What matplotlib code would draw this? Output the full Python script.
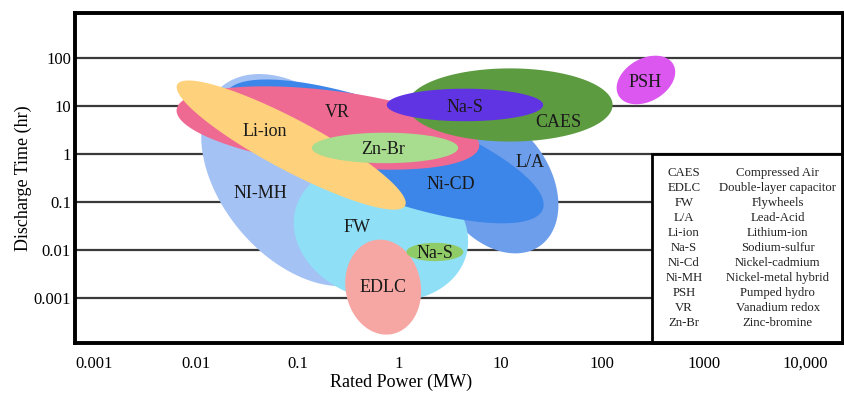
import numpy as np
import matplotlib.pyplot as plt
from matplotlib.patches import Rectangle

plt.rcParams['font.family'] = ['Liberation Serif', 'DejaVu Serif']

# storage technologies, listed back to front
techs = ["NI-MH", "L/A", "FW", "Ni-CD", "VR", "Li-ion", "Zn-Br", "CAES", "Na-S", "PSH", "EDLC", "Na-S"]
colours = ["#a4c2f4", "#6d9eeb", "#8fdff7", "#3c86ea", "#ee6a93", "#fed27d",
           "#a8dc8e", "#5d9b41", "#6134e3", "#db57f0", "#f7a7a3", "#8fcc67"]

# ellipse centres: rated power (MW) and discharge time (hr)
centre_power = [0.106, 8.8, 0.665, 0.72, 0.2, 0.087, 0.73, 12.4, 4.47, 270, 0.70, 2.26]
centre_time = [0.29, 0.265, 0.024, 1.15, 3.54, 1.56, 1.36, 10.7, 10.7, 35.5, 0.0017, 0.0092]
# half axes in power decades, tilt in degrees
half_major = [1.20, 0.77, 0.87, 1.66, 1.50, 1.27, 0.72, 1.01, 0.77, 0.31, 0.47, 0.28]
half_minor = [0.77, 0.54, 0.67, 0.45, 0.37, 0.25, 0.15, 0.36, 0.16, 0.21, 0.37, 0.09]
tilt = [-50, -55, -15, -20, -7, -28, 0, 0, 0, 30, 100, 0]

# where the names sit
label_power = [0.043, 19.5, 0.386, 3.25, 0.25, 0.048, 0.70, 36.7, 4.47, 264, 0.70, 2.26]
label_time = [0.156, 0.66, 0.030, 0.23, 7.3, 3.06, 1.29, 4.72, 9.7, 32.2, 0.0017, 0.0087]

x_ticks = [0.001, 0.01, 0.1, 1, 10, 100, 1000, 10000]
x_ticklabels = ["0.001", "0.01", "0.1", "1", "10", "100", "1000", "10,000"]
y_ticks = [0.001, 0.01, 0.1, 1, 10, 100]
y_ticklabels = ["0.001", "0.01", "0.1", "1", "10", "100"]

abbrev = ["CAES", "EDLC", "FW", "L/A", "Li-ion", "Na-S", "Ni-Cd", "Ni-MH", "PSH", "VR", "Zn-Br"]
full_names = ["Compressed Air", "Double-layer capacitor", "Flywheels", "Lead-Acid",
              "Lithium-ion", "Sodium-sulfur", "Nickel-cadmium", "Nickel-metal hybrid",
              "Pumped hydro", "Vanadium redox", "Zinc-bromine"]

fig = plt.figure(figsize=(8.44, 3.94), dpi=100)
ax = fig.add_axes([0.0889, 0.1294, 0.9099, 0.8376])
ax.set_xscale("log")
ax.set_yscale("log")
xlim = (10 ** -3.188, 10 ** 4.371)
ylim = (10 ** -3.935, 10 ** 2.947)
ax.set_xlim(*xlim)
ax.set_ylim(*ylim)

# pixels per decade differ on the two axes, ellipses are drawn in screen shape
pos = ax.get_position()
x_px = fig.get_figwidth() * fig.dpi * pos.width / np.log10(xlim[1] / xlim[0])
y_px = fig.get_figheight() * fig.dpi * pos.height / np.log10(ylim[1] / ylim[0])
y_scale = y_px / x_px

for y in y_ticks:
    ax.axhline(y, color="#3a3a3a", lw=1.6, zorder=1)

t = np.linspace(0, 2 * np.pi, 300)
for i in range(len(techs)):
    th = np.radians(tilt[i])
    u = half_major[i] * np.cos(t)
    v = half_minor[i] * np.sin(t)
    lx = np.log10(centre_power[i]) + u * np.cos(th) - v * np.sin(th)
    ly = np.log10(centre_time[i]) + (u * np.sin(th) + v * np.cos(th)) / y_scale
    ax.fill(10 ** lx, 10 ** ly, color=colours[i], lw=0, zorder=2 + i)
    ax.text(label_power[i], label_time[i], techs[i], fontsize=13, color="#1a1a1a",
            ha="center", va="center", zorder=20)

# abbreviation table
ax.add_patch(Rectangle((0.751, 0.0), 0.26, 0.573, transform=ax.transAxes,
                       facecolor="white", edgecolor="black", lw=2, zorder=30, clip_on=False))
for i in range(len(abbrev)):
    yy = 0.515 - i * 0.0454
    ax.text(0.793, yy, abbrev[i], transform=ax.transAxes, fontsize=9.2, ha="center", va="center",
            color="#222222", zorder=31)
    ax.text(0.915, yy, full_names[i], transform=ax.transAxes, fontsize=9.2, ha="center", va="center",
            color="#222222", zorder=31)

ax.set_xticks(x_ticks)
ax.set_xticklabels(x_ticklabels)
ax.set_yticks(y_ticks)
ax.set_yticklabels(y_ticklabels)
ax.minorticks_off()
ax.tick_params(axis="both", length=0, labelsize=12)
ax.tick_params(axis="x", pad=9)
ax.tick_params(axis="y", pad=3)
for s in ax.spines.values():
    s.set_linewidth(2.8)
    s.set_zorder(40)

ax.set_xlabel("Rated Power (MW)", fontsize=13)
ax.xaxis.set_label_coords(0.424, -0.093)
ax.set_ylabel("Discharge Time (hr)", fontsize=13)
ax.yaxis.set_label_coords(-0.056, 0.5)

plt.savefig("out.png", dpi=100)
